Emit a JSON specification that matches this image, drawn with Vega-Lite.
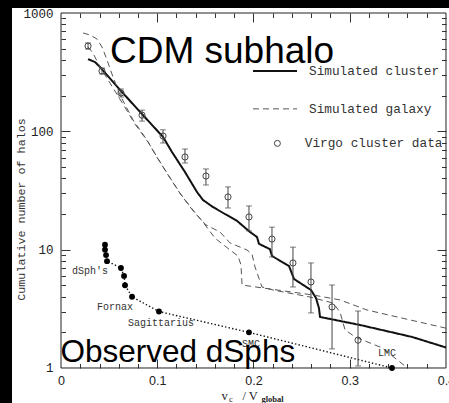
{
  "$schema": "https://vega.github.io/schema/vega-lite/v6.json",
  "width": 437,
  "height": 395,
  "autosize": {"type": "none"},
  "padding": {"left": 12, "top": 8, "right": 0, "bottom": 0},
  "background": "#000000",
  "config": {
    "view": {"fill": "white", "stroke": null},
    "axis": {"grid": false, "domain": false, "labelFlush": false, "labelOverlap": false, "tickColor": "#333333", "tickWidth": 1, "titleFontWeight": "normal", "titleColor": "#222222", "labelColor": "#222222"}
  },
  "datasets": {
    "frame": [
      {"x": 0, "x2": 0.4, "y": 1, "y2": 1},
      {"x": 0, "x2": 0.4, "y": 1000, "y2": 1000},
      {"x": 0, "x2": 0, "y": 1, "y2": 1000},
      {"x": 0.4, "x2": 0.4, "y": 1, "y2": 1000}
    ],
    "sim": [
      {"series": "Simulated cluster", "run": "cluster", "x": 0.0281, "y": 408},
      {"series": "Simulated cluster", "run": "cluster", "x": 0.0353, "y": 385},
      {"series": "Simulated cluster", "run": "cluster", "x": 0.0405, "y": 350},
      {"series": "Simulated cluster", "run": "cluster", "x": 0.0613, "y": 224},
      {"series": "Simulated cluster", "run": "cluster", "x": 0.0852, "y": 137},
      {"series": "Simulated cluster", "run": "cluster", "x": 0.106, "y": 89.6},
      {"series": "Simulated cluster", "run": "cluster", "x": 0.1153, "y": 66.9},
      {"series": "Simulated cluster", "run": "cluster", "x": 0.1288, "y": 45.3},
      {"series": "Simulated cluster", "run": "cluster", "x": 0.1413, "y": 30.7},
      {"series": "Simulated cluster", "run": "cluster", "x": 0.1475, "y": 26.3},
      {"series": "Simulated cluster", "run": "cluster", "x": 0.1579, "y": 22.9},
      {"series": "Simulated cluster", "run": "cluster", "x": 0.1704, "y": 20.0},
      {"series": "Simulated cluster", "run": "cluster", "x": 0.1829, "y": 17.5},
      {"series": "Simulated cluster", "run": "cluster", "x": 0.1964, "y": 14.1},
      {"series": "Simulated cluster", "run": "cluster", "x": 0.2036, "y": 12.8},
      {"series": "Simulated cluster", "run": "cluster", "x": 0.2057, "y": 11.2},
      {"series": "Simulated cluster", "run": "cluster", "x": 0.2171, "y": 10.1},
      {"series": "Simulated cluster", "run": "cluster", "x": 0.2192, "y": 8.84},
      {"series": "Simulated cluster", "run": "cluster", "x": 0.2369, "y": 7.28},
      {"series": "Simulated cluster", "run": "cluster", "x": 0.2421, "y": 5.65},
      {"series": "Simulated cluster", "run": "cluster", "x": 0.2597, "y": 4.56},
      {"series": "Simulated cluster", "run": "cluster", "x": 0.2649, "y": 3.91},
      {"series": "Simulated cluster", "run": "cluster", "x": 0.268, "y": 3.21},
      {"series": "Simulated cluster", "run": "cluster", "x": 0.2691, "y": 2.7},
      {"series": "Simulated cluster", "run": "cluster", "x": 0.3106, "y": 2.31},
      {"series": "Simulated cluster", "run": "cluster", "x": 0.3647, "y": 1.83},
      {"series": "Simulated cluster", "run": "cluster", "x": 0.4, "y": 1.49},
      {"series": "Simulated galaxy", "run": "galaxy A", "x": 0.0229, "y": 678},
      {"series": "Simulated galaxy", "run": "galaxy A", "x": 0.0301, "y": 652},
      {"series": "Simulated galaxy", "run": "galaxy A", "x": 0.0374, "y": 603},
      {"series": "Simulated galaxy", "run": "galaxy A", "x": 0.0426, "y": 516},
      {"series": "Simulated galaxy", "run": "galaxy A", "x": 0.0478, "y": 401},
      {"series": "Simulated galaxy", "run": "galaxy A", "x": 0.054, "y": 288},
      {"series": "Simulated galaxy", "run": "galaxy A", "x": 0.0613, "y": 203},
      {"series": "Simulated galaxy", "run": "galaxy A", "x": 0.0748, "y": 125},
      {"series": "Simulated galaxy", "run": "galaxy A", "x": 0.0893, "y": 84.5},
      {"series": "Simulated galaxy", "run": "galaxy A", "x": 0.0997, "y": 60.7},
      {"series": "Simulated galaxy", "run": "galaxy A", "x": 0.1101, "y": 44.5},
      {"series": "Simulated galaxy", "run": "galaxy A", "x": 0.1236, "y": 30.1},
      {"series": "Simulated galaxy", "run": "galaxy A", "x": 0.1371, "y": 21.6},
      {"series": "Simulated galaxy", "run": "galaxy A", "x": 0.1475, "y": 17.1},
      {"series": "Simulated galaxy", "run": "galaxy A", "x": 0.16, "y": 12.5},
      {"series": "Simulated galaxy", "run": "galaxy A", "x": 0.1756, "y": 9.94},
      {"series": "Simulated galaxy", "run": "galaxy A", "x": 0.1839, "y": 8.84},
      {"series": "Simulated galaxy", "run": "galaxy A", "x": 0.187, "y": 7.42},
      {"series": "Simulated galaxy", "run": "galaxy A", "x": 0.1881, "y": 5.03},
      {"series": "Simulated galaxy", "run": "galaxy A", "x": 0.2099, "y": 4.74},
      {"series": "Simulated galaxy", "run": "galaxy A", "x": 0.2618, "y": 4.14},
      {"series": "Simulated galaxy", "run": "galaxy A", "x": 0.2899, "y": 3.76},
      {"series": "Simulated galaxy", "run": "galaxy A", "x": 0.3179, "y": 3.09},
      {"series": "Simulated galaxy", "run": "galaxy A", "x": 0.4, "y": 2.17},
      {"series": "Simulated galaxy", "run": "galaxy B", "x": 0.0281, "y": 516},
      {"series": "Simulated galaxy", "run": "galaxy B", "x": 0.0332, "y": 459},
      {"series": "Simulated galaxy", "run": "galaxy B", "x": 0.0405, "y": 350},
      {"series": "Simulated galaxy", "run": "galaxy B", "x": 0.0509, "y": 256},
      {"series": "Simulated galaxy", "run": "galaxy B", "x": 0.0644, "y": 170},
      {"series": "Simulated galaxy", "run": "galaxy B", "x": 0.0769, "y": 115},
      {"series": "Simulated galaxy", "run": "galaxy B", "x": 0.0904, "y": 81.3},
      {"series": "Simulated galaxy", "run": "galaxy B", "x": 0.1008, "y": 58.4},
      {"series": "Simulated galaxy", "run": "galaxy B", "x": 0.1112, "y": 42.8},
      {"series": "Simulated galaxy", "run": "galaxy B", "x": 0.1247, "y": 29.0},
      {"series": "Simulated galaxy", "run": "galaxy B", "x": 0.1382, "y": 20.8},
      {"series": "Simulated galaxy", "run": "galaxy B", "x": 0.1506, "y": 16.2},
      {"series": "Simulated galaxy", "run": "galaxy B", "x": 0.1652, "y": 14.1},
      {"series": "Simulated galaxy", "run": "galaxy B", "x": 0.1756, "y": 11.4},
      {"series": "Simulated galaxy", "run": "galaxy B", "x": 0.1932, "y": 9.94},
      {"series": "Simulated galaxy", "run": "galaxy B", "x": 0.1984, "y": 9.19},
      {"series": "Simulated galaxy", "run": "galaxy B", "x": 0.2016, "y": 7.14},
      {"series": "Simulated galaxy", "run": "galaxy B", "x": 0.2088, "y": 4.84},
      {"series": "Simulated galaxy", "run": "galaxy B", "x": 0.2203, "y": 4.56},
      {"series": "Simulated galaxy", "run": "galaxy B", "x": 0.2587, "y": 3.98},
      {"series": "Simulated galaxy", "run": "galaxy B", "x": 0.2826, "y": 3.54},
      {"series": "Simulated galaxy", "run": "galaxy B", "x": 0.2899, "y": 2.97},
      {"series": "Simulated galaxy", "run": "galaxy B", "x": 0.2951, "y": 2.1},
      {"series": "Simulated galaxy", "run": "galaxy B", "x": 0.3055, "y": 1.83},
      {"series": "Simulated galaxy", "run": "galaxy B", "x": 0.3335, "y": 1.48},
      {"series": "Simulated galaxy", "run": "galaxy B", "x": 0.3574, "y": 1.04}
    ],
    "virgo": [
      {"src": "Virgo cluster data", "x": 0.0281, "y": 526, "lo": 496, "hi": 558},
      {"src": "Virgo cluster data", "x": 0.0426, "y": 323, "lo": 305, "hi": 343},
      {"src": "Virgo cluster data", "x": 0.0623, "y": 211, "lo": 195, "hi": 228},
      {"src": "Virgo cluster data", "x": 0.0842, "y": 137, "lo": 122, "hi": 151},
      {"src": "Virgo cluster data", "x": 0.106, "y": 91.3, "lo": 79.7, "hi": 103},
      {"src": "Virgo cluster data", "x": 0.1288, "y": 60.7, "lo": 54.0, "hi": 70.9},
      {"src": "Virgo cluster data", "x": 0.1506, "y": 41.9, "lo": 35.2, "hi": 48.1},
      {"src": "Virgo cluster data", "x": 0.1735, "y": 27.9, "lo": 22.5, "hi": 33.9},
      {"src": "Virgo cluster data", "x": 0.1953, "y": 18.9, "lo": 14.4, "hi": 23.4},
      {"src": "Virgo cluster data", "x": 0.2192, "y": 12.3, "lo": 8.67, "hi": 15.5},
      {"src": "Virgo cluster data", "x": 0.241, "y": 7.72, "lo": 4.84, "hi": 10.5},
      {"src": "Virgo cluster data", "x": 0.2597, "y": 5.33, "lo": 2.92, "hi": 7.72},
      {"src": "Virgo cluster data", "x": 0.2816, "y": 3.28, "lo": 1.45, "hi": 5.03},
      {"src": "Virgo cluster data", "x": 0.3086, "y": 1.72, "lo": 1.04, "hi": 3.03}
    ],
    "dsph": [
      {"x": 0.0457, "y": 11, "label": ""},
      {"x": 0.0457, "y": 10, "label": ""},
      {"x": 0.0468, "y": 9, "label": ""},
      {"x": 0.0478, "y": 8, "label": "dSph's"},
      {"x": 0.0623, "y": 7, "label": ""},
      {"x": 0.0655, "y": 6, "label": ""},
      {"x": 0.0665, "y": 5, "label": ""},
      {"x": 0.0738, "y": 4, "label": "Fornax"},
      {"x": 0.1018, "y": 3, "label": "Sagittarius"},
      {"x": 0.1953, "y": 2, "label": "SMC"},
      {"x": 0.3439, "y": 1, "label": "LMC"}
    ]
  },
  "resolve": {"axis": {"x": "independent", "y": "independent"}},
  "layer": [
    {
      "data": {"name": "frame"},
      "mark": {"type": "rule", "color": "#222222", "strokeWidth": 1},
      "encoding": {
        "x": {"field": "x", "type": "quantitative", "scale": {"domain": [-0.05091, 0.40312], "nice": false, "zero": false},
          "axis": {"orient": "bottom", "offset": -35, "values": [0, 0.1, 0.2, 0.3, 0.4], "labelExpr": "datum.value == 0 ? '0' : format(datum.value, '.1f')", "ticks": false, "labelPadding": 6, "labelFont": "Liberation Sans", "labelFontSize": 12.5,
            "title": "v", "titleX": 209, "titleY": 31, "titleAlign": "left", "titleBaseline": "alphabetic", "titleFont": "Liberation Serif", "titleFontSize": 12.5}},
        "x2": {"field": "x2"},
        "y": {"field": "y", "type": "quantitative", "scale": {"type": "log", "domain": [0.506, 1102.2], "nice": false},
          "axis": {"orient": "left", "offset": -49, "values": [1, 10, 100, 1000], "labelExpr": "format(datum.value, 'd')", "ticks": false, "labelPadding": 8, "labelFont": "Liberation Mono", "labelFontSize": 12.5,
            "title": "Cumulative number of halos", "titleX": -41, "titleY": 201, "titleAngle": -90, "titleAlign": "center", "titleBaseline": "middle", "titleFont": "Liberation Mono", "titleFontSize": 11.7, "titleColor": "#333333"}},
        "y2": {"field": "y2"}
      }
    },
    {
      "data": {"name": "sim"},
      "mark": {"type": "line"},
      "encoding": {
        "x": {"field": "x", "type": "quantitative", "scale": {"domain": [-0.05091, 0.40312], "nice": false, "zero": false},
          "axis": {"orient": "top", "offset": -360, "values": [0.1, 0.2, 0.3], "labels": false, "tickSize": 9,
            "title": "c", "titleX": 216.5, "titleY": 33, "titleAlign": "left", "titleBaseline": "alphabetic", "titleFont": "Liberation Serif", "titleFontSize": 8.5}},
        "y": {"field": "y", "type": "quantitative", "scale": {"type": "log", "domain": [0.506, 1102.2], "nice": false},
          "axis": {"orient": "right", "offset": -388, "values": [10, 100], "labels": false, "tickSize": 9, "title": null}},
        "detail": {"field": "run"},
        "order": {"field": "y", "sort": "descending"},
        "strokeDash": {"field": "series", "type": "nominal", "scale": {"domain": ["Simulated cluster", "Simulated galaxy"], "range": [[1, 0], [6, 4]]},
          "legend": {"orient": "none", "legendX": 240, "legendY": 56.5, "title": null, "symbolType": "M-1,0H7", "symbolSize": 121, "labelOffset": 44, "rowPadding": 24, "labelFont": "Liberation Mono", "labelFontSize": 12.75, "labelColor": "#333333", "labelLimit": 0}},
        "strokeWidth": {"field": "series", "type": "nominal", "scale": {"domain": ["Simulated cluster", "Simulated galaxy"], "range": [2, 1]},
          "legend": {"orient": "none", "legendX": 240, "legendY": 56.5, "title": null, "symbolType": "M-1,0H7", "symbolSize": 121, "labelOffset": 44, "rowPadding": 24, "labelFont": "Liberation Mono", "labelFontSize": 12.75, "labelColor": "#333333", "labelLimit": 0}},
        "color": {"field": "series", "type": "nominal", "scale": {"domain": ["Simulated cluster", "Simulated galaxy"], "range": ["#111111", "#555555"]},
          "legend": {"orient": "none", "legendX": 240, "legendY": 56.5, "title": null, "symbolType": "M-1,0H7", "symbolSize": 121, "labelOffset": 44, "rowPadding": 24, "labelFont": "Liberation Mono", "labelFontSize": 12.75, "labelColor": "#333333", "labelLimit": 0}}
      }
    },
    {
      "data": {"name": "dsph"},
      "mark": {"type": "line", "color": "#111111", "strokeWidth": 1.4, "strokeDash": [1.4, 2.2]},
      "encoding": {
        "x": {"field": "x", "type": "quantitative", "scale": {"domain": [-0.05091, 0.40312], "nice": false, "zero": false},
          "axis": {"orient": "top", "offset": -360, "values": [0.02, 0.04, 0.06, 0.08, 0.12, 0.14, 0.16, 0.18, 0.22, 0.24, 0.26, 0.28, 0.32, 0.34, 0.36, 0.38], "labels": false, "tickSize": 4.5,
            "title": "/ V", "titleX": 230, "titleY": 31, "titleAlign": "left", "titleBaseline": "alphabetic", "titleFont": "Liberation Serif", "titleFontSize": 12.5}},
        "y": {"field": "y", "type": "quantitative", "scale": {"type": "log", "domain": [0.506, 1102.2], "nice": false},
          "axis": {"orient": "right", "offset": -388, "values": [2, 3, 4, 5, 6, 7, 8, 9, 20, 30, 40, 50, 60, 70, 80, 90, 200, 300, 400, 500, 600, 700, 800, 900], "labels": false, "tickSize": 4.5, "title": null}},
        "order": {"field": "y", "sort": "descending"}
      }
    },
    {
      "data": {"name": "dsph"},
      "mark": {"type": "point", "filled": true, "color": "#000000", "size": 34, "opacity": 1},
      "encoding": {
        "x": {"field": "x", "type": "quantitative", "scale": {"domain": [-0.05091, 0.40312], "nice": false, "zero": false},
          "axis": {"orient": "bottom", "offset": -390, "values": [0.1, 0.2, 0.3], "labels": false, "tickSize": 9,
            "title": "global", "titleX": 249, "titleY": 388, "titleAlign": "left", "titleBaseline": "alphabetic", "titleFont": "Liberation Serif", "titleFontSize": 8.5, "titleFontWeight": "bold"}},
        "y": {"field": "y", "type": "quantitative", "scale": {"type": "log", "domain": [0.506, 1102.2], "nice": false},
          "axis": {"orient": "left", "offset": -434, "values": [10, 100], "labels": false, "tickSize": 9, "title": null}}
      }
    },
    {
      "data": {"name": "virgo"},
      "mark": {"type": "errorbar", "ticks": {"size": 6, "color": "#444444"}, "rule": {"color": "#444444", "strokeWidth": 1}},
      "encoding": {
        "x": {"field": "x", "type": "quantitative", "scale": {"domain": [-0.05091, 0.40312], "nice": false, "zero": false}, "axis": null},
        "y": {"field": "lo", "type": "quantitative", "scale": {"type": "log", "domain": [0.506, 1102.2], "nice": false}, "axis": null},
        "y2": {"field": "hi"}
      }
    },
    {
      "data": {"name": "virgo"},
      "mark": {"type": "point", "filled": false, "color": "#444444", "size": 38, "strokeWidth": 1, "opacity": 1},
      "encoding": {
        "x": {"field": "x", "type": "quantitative", "scale": {"domain": [-0.05091, 0.40312], "nice": false, "zero": false},
          "axis": {"orient": "bottom", "offset": -390, "values": [0.02, 0.04, 0.06, 0.08, 0.12, 0.14, 0.16, 0.18, 0.22, 0.24, 0.26, 0.28, 0.32, 0.34, 0.36, 0.38], "labels": false, "tickSize": 4.5, "title": null}},
        "y": {"field": "y", "type": "quantitative", "scale": {"type": "log", "domain": [0.506, 1102.2], "nice": false},
          "axis": {"orient": "left", "offset": -434, "values": [2, 3, 4, 5, 6, 7, 8, 9, 20, 30, 40, 50, 60, 70, 80, 90, 200, 300, 400, 500, 600, 700, 800, 900], "labels": false, "tickSize": 4.5, "title": null}},
        "shape": {"field": "src", "type": "nominal", "scale": {"range": ["circle"]},
          "legend": {"orient": "none", "legendX": 259, "legendY": 129, "title": null, "symbolSize": 36, "labelOffset": 21, "labelFont": "Liberation Mono", "labelFontSize": 12.75, "labelColor": "#333333", "labelLimit": 0, "symbolStrokeColor": "#444444", "symbolStrokeWidth": 1, "symbolFillColor": "transparent"}}
      }
    },
    {
      "data": {"name": "dsph"},
      "transform": [{"filter": {"field": "label", "oneOf": ["dSph's", "Fornax"]}}],
      "mark": {"type": "text", "font": "Liberation Mono", "fontSize": 10, "color": "#333333", "dx": -17, "dy": 10},
      "encoding": {
        "x": {"field": "x", "type": "quantitative", "scale": {"domain": [-0.05091, 0.40312], "nice": false, "zero": false}, "axis": null},
        "y": {"field": "y", "type": "quantitative", "scale": {"type": "log", "domain": [0.506, 1102.2], "nice": false}, "axis": null},
        "text": {"field": "label"}
      }
    },
    {
      "data": {"name": "dsph"},
      "transform": [{"filter": {"field": "label", "oneOf": ["Sagittarius", "SMC"]}}],
      "mark": {"type": "text", "font": "Liberation Mono", "fontSize": 10, "color": "#333333", "dx": 2, "dy": 11.5},
      "encoding": {
        "x": {"field": "x", "type": "quantitative", "scale": {"domain": [-0.05091, 0.40312], "nice": false, "zero": false}, "axis": null},
        "y": {"field": "y", "type": "quantitative", "scale": {"type": "log", "domain": [0.506, 1102.2], "nice": false}, "axis": null},
        "text": {"field": "label"}
      }
    },
    {
      "data": {"name": "dsph"},
      "transform": [{"filter": {"field": "label", "oneOf": ["LMC"]}}],
      "mark": {"type": "text", "font": "Liberation Mono", "fontSize": 10, "color": "#333333", "dx": -5, "dy": -15},
      "encoding": {
        "x": {"field": "x", "type": "quantitative", "scale": {"domain": [-0.05091, 0.40312], "nice": false, "zero": false}, "axis": null},
        "y": {"field": "y", "type": "quantitative", "scale": {"type": "log", "domain": [0.506, 1102.2], "nice": false}, "axis": null},
        "text": {"field": "label"}
      }
    },
    {
      "data": {"values": [{"t": "CDM subhalo"}]},
      "mark": {"type": "text", "font": "Liberation Sans", "fontSize": 37, "color": "#000000", "align": "left", "baseline": "alphabetic"},
      "encoding": {
        "x": {"datum": 0.0509, "type": "quantitative", "scale": {"domain": [-0.05091, 0.40312], "nice": false, "zero": false}, "axis": null},
        "y": {"datum": 378, "type": "quantitative", "scale": {"type": "log", "domain": [0.506, 1102.2], "nice": false}, "axis": null},
        "text": {"field": "t"}
      }
    },
    {
      "data": {"values": [{"t": "Observed dSphs"}]},
      "mark": {"type": "text", "font": "Liberation Sans", "fontSize": 31.5, "color": "#000000", "align": "left", "baseline": "alphabetic"},
      "encoding": {
        "x": {"datum": -0.0005, "type": "quantitative", "scale": {"domain": [-0.05091, 0.40312], "nice": false, "zero": false}, "axis": null},
        "y": {"datum": 1.124, "type": "quantitative", "scale": {"type": "log", "domain": [0.506, 1102.2], "nice": false}, "axis": null},
        "text": {"field": "t"}
      }
    }
  ]
}
